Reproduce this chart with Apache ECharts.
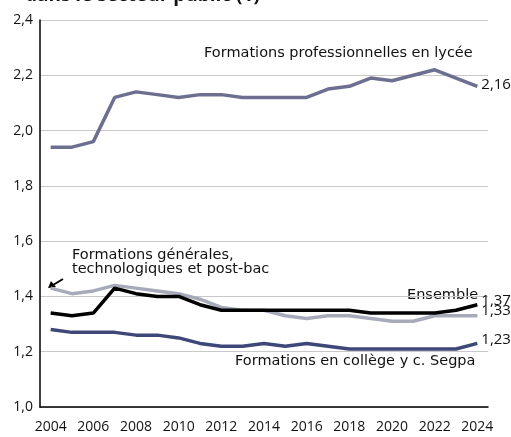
<!DOCTYPE html>
<html>
<head>
<meta charset="utf-8">
<script src="https://cdn.jsdelivr.net/npm/echarts@6/dist/echarts.min.js"></script>
<style>
  html, body { margin: 0; padding: 0; background: #fff; }
  #main { width: 511px; height: 437px; }
</style>
</head>
<body>
<div id="main"></div>
<script>
// années et valeurs
const years = ["2004","2005","2006","2007","2008","2009","2010","2011","2012","2013","2014",
  "2015","2016","2017","2018","2019","2020","2021","2022","2023","2024"];
const proLycee = [1.94,1.94,1.96,2.12,2.14,2.13,2.12,2.13,2.13,2.12,2.12,
  2.12,2.12,2.15,2.16,2.19,2.18,2.20,2.22,2.19,2.16];
const genTech = [1.43,1.41,1.42,1.44,1.43,1.42,1.41,1.39,1.36,1.35,1.35,
  1.33,1.32,1.33,1.33,1.32,1.31,1.31,1.33,1.33,1.33];
const ensemble = [1.34,1.33,1.34,1.43,1.41,1.40,1.40,1.37,1.35,1.35,1.35,
  1.35,1.35,1.35,1.35,1.34,1.34,1.34,1.34,1.35,1.37];
const college = [1.28,1.27,1.27,1.27,1.26,1.26,1.25,1.23,1.22,1.22,1.23,
  1.22,1.23,1.22,1.21,1.21,1.21,1.21,1.21,1.21,1.23];

const font = "'Open Sans', sans-serif";
const noteFont = "14.5px 'DejaVu Sans', sans-serif";
const fr = (v, d) => v.toFixed(d).replace(".", ",");

const myChart = echarts.init(document.getElementById("main"));

function line(name, data, color, dy) {
  return {
    name: name,
    type: "line",
    data: data,
    symbol: "none",
    lineStyle: { color: color, width: 3.5 },
    endLabel: {
      show: true,
      formatter: (p) => fr(p.value, 2),
      color: "#111",
      fontFamily: font,
      fontSize: 15,
      distance: 4,
      offset: [0, dy]
    },
    z: 3
  };
}

const option = {
  animation: false,
  grid: { left: 40, right: 23, top: 20, bottom: 30 },
  xAxis: {
    type: "category",
    data: years,
    boundaryGap: true,
    axisLine: { lineStyle: { color: "#000", width: 1.5 } },
    axisTick: { interval: 0, length: 7, lineStyle: { color: "#000", width: 1.5 } },
    axisLabel: { interval: 1, color: "#111", fontFamily: font, fontSize: 14, margin: 13 },
    splitLine: { show: false }
  },
  yAxis: {
    type: "value",
    min: 1,
    max: 2.4,
    interval: 0.2,
    axisLine: { show: true, lineStyle: { color: "#000", width: 1.5 } },
    axisTick: { show: false },
    axisLabel: { color: "#111", fontFamily: font, fontSize: 14, margin: 7,
      formatter: (v) => fr(v, 1) },
    splitLine: { lineStyle: { color: "#c8c8c8", width: 1 } }
  },
  series: [
    line("Formations professionnelles en lycée", proLycee, "#6c6f8f", -2),
    line("Formations générales, technologiques et post-bac", genTech, "#a7aabb", -5),
    line("Ensemble", ensemble, "#000000", -4),
    line("Formations en collège y c. Segpa", college, "#3d4878", -4)
  ],
  graphic: [
    { type: "text", left: 25, top: -14,
      style: { text: "dans le secteur public (1)", font: "bold 19px " + font, fill: "#111" } },
    { type: "text", left: 204, top: 46,
      style: { text: "Formations professionnelles en lycée", font: noteFont, fill: "#111" } },
    { type: "text", left: 72, top: 248,
      style: { text: "Formations générales,\ntechnologiques et post-bac", font: noteFont,
        lineHeight: 14, fill: "#111" } },
    { type: "line", shape: { x1: 63, y1: 279, x2: 53, y2: 285 },
      style: { stroke: "#000", lineWidth: 2 } },
    { type: "polygon", shape: { points: [[48, 288], [51, 281], [56, 287]] },
      style: { fill: "#000" } },
    { type: "text", left: 407, top: 288,
      style: { text: "Ensemble", font: noteFont, fill: "#111" } },
    { type: "text", left: 235, top: 354,
      style: { text: "Formations en collège y c. Segpa", font: noteFont, fill: "#111" } }
  ]
};

myChart.setOption(option);
</script>
</body>
</html>
